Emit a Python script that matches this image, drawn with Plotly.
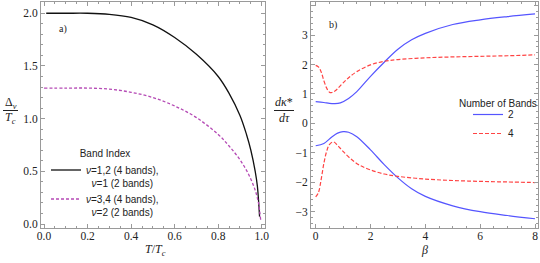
import plotly.graph_objects as go

# ---- panel a) data ----
T_black = [0.01, 0.1, 0.2, 0.3, 0.4, 0.5, 0.6, 0.7, 0.8, 0.85, 0.9, 0.93, 0.95, 0.97, 0.98, 0.99]
D_black = [2.00, 2.00, 2.00, 1.99, 1.96, 1.89, 1.77, 1.61, 1.40, 1.24, 1.03, 0.85, 0.70, 0.50, 0.36, 0.07]
T_purple = [0.0, 0.1, 0.2, 0.3, 0.4, 0.5, 0.6, 0.7, 0.8, 0.85, 0.9, 0.94, 0.97, 0.985, 0.995]
D_purple = [1.29, 1.29, 1.29, 1.28, 1.25, 1.20, 1.12, 1.01, 0.85, 0.74, 0.61, 0.47, 0.32, 0.20, 0.04]

# ---- panel b) data ----
b_blue_up = [0, 0.3, 0.5, 0.7, 0.9, 1.2, 1.5, 2.0, 2.5, 3.0, 3.5, 4, 5, 6, 7, 8]
k_blue_up = [0.74, 0.71, 0.68, 0.67, 0.70, 0.85, 1.08, 1.60, 2.08, 2.52, 2.84, 3.06, 3.36, 3.52, 3.63, 3.72]
b_blue_lo = [0, 0.3, 0.6, 0.8, 1.0, 1.2, 1.5, 2.0, 2.5, 3.0, 3.5, 4, 5, 6, 7, 8]
k_blue_lo = [-0.76, -0.68, -0.45, -0.33, -0.28, -0.30, -0.45, -0.90, -1.40, -1.85, -2.22, -2.48, -2.80, -3.00, -3.13, -3.24]
b_red_up = [0, 0.1, 0.2, 0.3, 0.4, 0.5, 0.6, 0.7, 0.8, 1.0, 1.2, 1.5, 2.0, 2.5, 3, 4, 5, 6, 7, 8]
k_red_up = [1.97, 1.92, 1.75, 1.45, 1.20, 1.06, 1.05, 1.10, 1.18, 1.38, 1.55, 1.76, 1.99, 2.11, 2.17, 2.23, 2.26, 2.28, 2.30, 2.33]
b_red_lo = [0, 0.1, 0.2, 0.3, 0.4, 0.5, 0.65, 0.8, 1.0, 1.3, 1.6, 2.0, 2.5, 3.0, 4, 5, 6, 7, 8]
k_red_lo = [-2.50, -2.35, -1.90, -1.35, -0.95, -0.72, -0.63, -0.75, -0.95, -1.22, -1.42, -1.58, -1.72, -1.80, -1.89, -1.94, -1.97, -1.99, -2.01]

BLACK = "#111111"
PURPLE = "#b54ab5"
BLUE = "#5555ff"
RED = "#ff4444"

SERIF = "Liberation Serif"
SANS = "Liberation Sans"

fig = go.Figure()

fig.add_trace(go.Scatter(x=T_black, y=D_black, mode="lines", line=dict(color=BLACK, width=1.3, shape="spline"),
                         name="<i>ν</i>=1,2 (4 bands),<br>  <i>ν</i>=1 (2 bands)", legend="legend",
                         xaxis="x", yaxis="y"))
fig.add_trace(go.Scatter(x=T_purple, y=D_purple, mode="lines",
                         line=dict(color=PURPLE, width=1.3, dash="3px,2px", shape="spline"),
                         name="<i>ν</i>=3,4 (4 bands),<br>  <i>ν</i>=2 (2 bands)", legend="legend",
                         xaxis="x", yaxis="y"))

fig.add_trace(go.Scatter(x=b_blue_up, y=k_blue_up, mode="lines", line=dict(color=BLUE, width=1.2, shape="spline"),
                         name="2", legend="legend2", xaxis="x2", yaxis="y2"))
fig.add_trace(go.Scatter(x=b_blue_lo, y=k_blue_lo, mode="lines", line=dict(color=BLUE, width=1.2, shape="spline"),
                         name="2", legend="legend2", showlegend=False, xaxis="x2", yaxis="y2"))
fig.add_trace(go.Scatter(x=b_red_up, y=k_red_up, mode="lines",
                         line=dict(color=RED, width=1.2, dash="4px,2px", shape="spline"),
                         name="4", legend="legend2", xaxis="x2", yaxis="y2"))
fig.add_trace(go.Scatter(x=b_red_lo, y=k_red_lo, mode="lines",
                         line=dict(color=RED, width=1.2, dash="4px,2px", shape="spline"),
                         name="4", legend="legend2", showlegend=False, xaxis="x2", yaxis="y2"))

W, H = 540, 263
def px(xp):
    return xp / W
def py(yp):
    return 1 - yp / H

tickfont = dict(family=SERIF, size=11.5, color="#222222")
frame = "#9a9a9a"
common = dict(showgrid=False, zeroline=False, showline=True, linecolor=frame, linewidth=1,
              mirror="allticks", ticks="inside", ticklen=4, tickcolor=frame, tickwidth=1,
              tickfont=tickfont, automargin=False)

legfont = dict(family=SANS, size=10, color="#222")
fig.update_layout(
    width=W, height=H,
    margin=dict(l=0, r=0, t=0, b=0, autoexpand=False),
    paper_bgcolor="white", plot_bgcolor="white",
    xaxis=dict(domain=[px(41), px(265)], range=[-0.014, 1.015], tickvals=[0, 0.2, 0.4, 0.6, 0.8, 1.0],
               ticktext=["0.0", "0.2", "0.4", "0.6", "0.8", "1.0"], anchor="y", ticklabelstandoff=-3,
               minor=dict(dtick=0.05, ticks="inside", ticklen=2, tickcolor=frame), **common),
    yaxis=dict(domain=[py(228), py(2)], range=[-0.038, 2.107], tickvals=[0, 0.5, 1.0, 1.5, 2.0],
               ticktext=["0.0", "0.5", "1.0", "1.5", "2.0"], anchor="x",
               minor=dict(dtick=0.1, ticks="inside", ticklen=2, tickcolor=frame), **common),
    xaxis2=dict(domain=[px(311), px(538)], range=[-0.171, 8.109], tickvals=[0, 2, 4, 6, 8], anchor="y2",
                ticklabelstandoff=-3,
                minor=dict(dtick=0.5, ticks="inside", ticklen=2, tickcolor=frame), **common),
    yaxis2=dict(domain=[py(228), py(2)], range=[-3.554, 4.126], tickvals=[-3, -2, -1, 0, 1, 2, 3, 4], anchor="x2",
                minor=dict(dtick=0.2, ticks="inside", ticklen=2, tickcolor=frame), **common),
    legend=dict(x=px(46), y=py(144), xanchor="left", yanchor="top", valign="top",
                title=dict(text="Band Index", side="top center", font=legfont),
                font=legfont, bgcolor="rgba(0,0,0,0)", tracegroupgap=2, itemwidth=30),
    legend2=dict(x=px(468), y=py(100), xanchor="left", yanchor="top",
                 font=legfont, bgcolor="rgba(0,0,0,0)", tracegroupgap=0, itemwidth=30),
    showlegend=True,
)

serif_it = dict(family=SERIF, size=12, color="#222")
ann = [
    dict(x=px(63), y=py(29), text="a)", font=dict(family=SERIF, size=10, color="#222")),
    dict(x=px(333), y=py(25), text="b)", font=dict(family=SERIF, size=10, color="#222")),
    dict(x=px(155), y=py(250), text="<i>T</i>/<i>T<sub>c</sub></i>", font=serif_it),
    dict(x=px(424), y=py(250), text="<i>β</i>", font=serif_it),
    dict(x=px(10.5), y=py(103), text="Δ<sub><i>ν</i></sub>", font=serif_it),
    dict(x=px(10.5), y=py(117.5), text="<i>T<sub>c</sub></i>", font=serif_it),
    dict(x=px(284), y=py(102), text="<i>dκ</i>*", font=serif_it),
    dict(x=px(284), y=py(118), text="<i>dτ</i>", font=serif_it),
    dict(x=px(457), y=py(103), text="Number of Bands", font=legfont, xanchor="left"),
]
for a in ann:
    a.setdefault("xanchor", "center")
    a.update(xref="paper", yref="paper", showarrow=False, yanchor="middle")
fig.update_layout(annotations=ann)

fig.add_shape(type="line", xref="paper", yref="paper", x0=px(3), x1=px(18), y0=py(110.5), y1=py(110.5),
              line=dict(color="#222", width=1))
fig.add_shape(type="line", xref="paper", yref="paper", x0=px(274), x1=px(294), y0=py(110.5), y1=py(110.5),
              line=dict(color="#222", width=1))

fig.write_html("out.html", config={"displayModeBar": False},
               post_script="document.body.style.margin='0';document.body.style.overflow='hidden';")
